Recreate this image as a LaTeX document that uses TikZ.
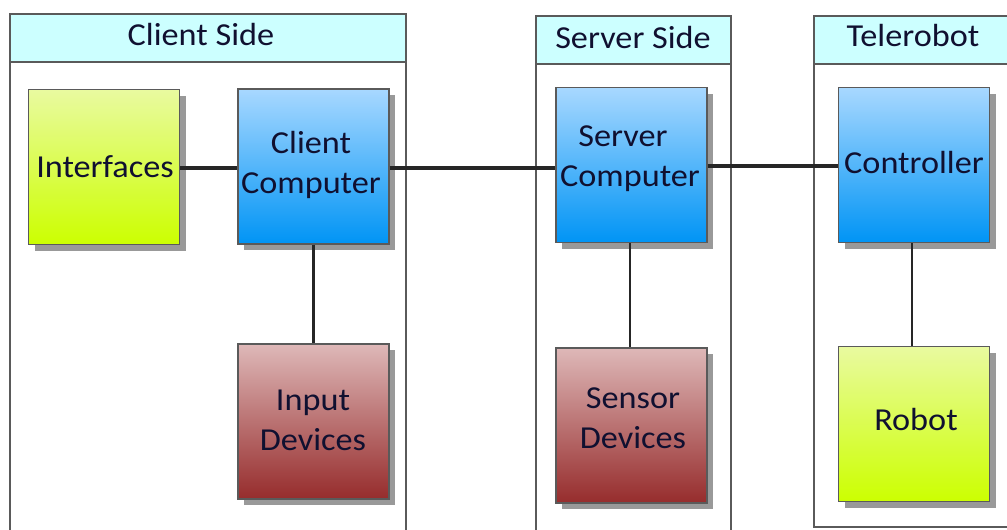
\documentclass[tikz,border=0pt]{standalone}
\usepackage{fontspec}
\setmainfont{Carlito}[FakeStretch=1.07]
\usetikzlibrary{shadows}
\definecolor{hdrfill}{HTML}{CCFFFF}
\definecolor{framegray}{HTML}{5A5A5A}
\definecolor{txt}{HTML}{101030}
\definecolor{limetop}{HTML}{E9FAA0}
\definecolor{limebot}{HTML}{CCFF00}
\definecolor{bluetop}{HTML}{A8D8FF}
\definecolor{bluebot}{HTML}{0094F5}
\definecolor{redtop}{HTML}{DEB8B8}
\definecolor{redbot}{HTML}{962C2C}
\tikzset{
  box/.style={draw=framegray, line width=1.2pt, minimum width=151pt, minimum height=155pt,
    inner sep=0pt,
    drop shadow={shadow xshift=6pt, shadow yshift=-6pt, fill=black!40, opacity=1}},
  limebox/.style={box, top color=limetop, bottom color=limebot},
  bluebox/.style={box, top color=bluetop, bottom color=bluebot},
  redbox/.style={box, top color=redtop, bottom color=redbot},
  lbl/.style={align=center, text=txt, inner sep=0pt, font=\fontsize{32}{40}\selectfont},
  header/.style={draw=framegray, line width=1.5pt, fill=hdrfill},
  panel/.style={draw=framegray, line width=1.3pt},
  link/.style={draw=black!85, line width=3.2pt},
  drop/.style={draw=black!85, line width=2.4pt},
}
\begin{document}
\begin{tikzpicture}[x=1pt, y=-1pt]
  \useasboundingbox (0,0) rectangle (1007,530);
  \clip (0,0) rectangle (1007,530);
  \fill[white] (0,0) rectangle (1007,530);

  % panel bodies
  \draw[panel] (10,62) -- (10,535);
  \draw[panel] (406,62) -- (406,535);
  \draw[panel] (536,64) -- (536,535);
  \draw[panel] (731,64) -- (731,535);
  \draw[panel] (814,64) -- (814,527) -- (1015,527);

  % panel headers
  \draw[header] (10,14) rectangle (406,62);
  \draw[header] (536,16) rectangle (731,64);
  \draw[header] (814,16) rectangle (1020,64);
  \node[lbl] (hclient) at (201,35) {Client Side};
  \node[lbl] (hserver) at (633,37) {Server Side};
  \node[lbl] (hrobot) at (913,36) {Telerobot};

  % boxes
  \node[limebox] (iface) at (104,167) {};
  \node[bluebox] (ccomp) at (313.5,166.5) {};
  \node[redbox] (idev) at (313.5,421.5) {};
  \node[bluebox] (scomp) at (631.5,165) {};
  \node[redbox] (sdev) at (631.5,425.5) {};
  \node[bluebox] (ctrl) at (914,165) {};
  \node[limebox] (robot) at (914,424) {};

  % box captions
  \node[lbl] (iface-t) at (105,167) {Interfaces};
  \node[lbl] (ccomp-t) at (311,164.5) {Client\\Computer};
  \node[lbl] (idev-t) at (313,420.5) {Input\\Devices};
  \node[lbl] (scomp-t) at (630,159) {\hspace*{-14pt}Server\\Computer};
  \node[lbl] (sdev-t) at (633,418) {Sensor\\Devices};
  \node[lbl] (ctrl-t) at (914,163) {Controller};
  \node[lbl] (robot-t) at (916,420) {Robot};

  % connections
  \draw[link] (iface.east |- 0,168) -- (ccomp.west |- 0,168);
  \draw[link] (ccomp.east |- 0,168) -- (scomp.west |- 0,168);
  \draw[link] (scomp.east |- 0,166) -- (ctrl.west |- 0,166);
  \draw[drop] (ccomp.south) -- (idev.north);
  \draw[drop] (scomp.south -| 630,0) -- (sdev.north -| 630,0);
  \draw[drop] (ctrl.south -| 912,0) -- (robot.north -| 912,0);
\end{tikzpicture}
\end{document}
